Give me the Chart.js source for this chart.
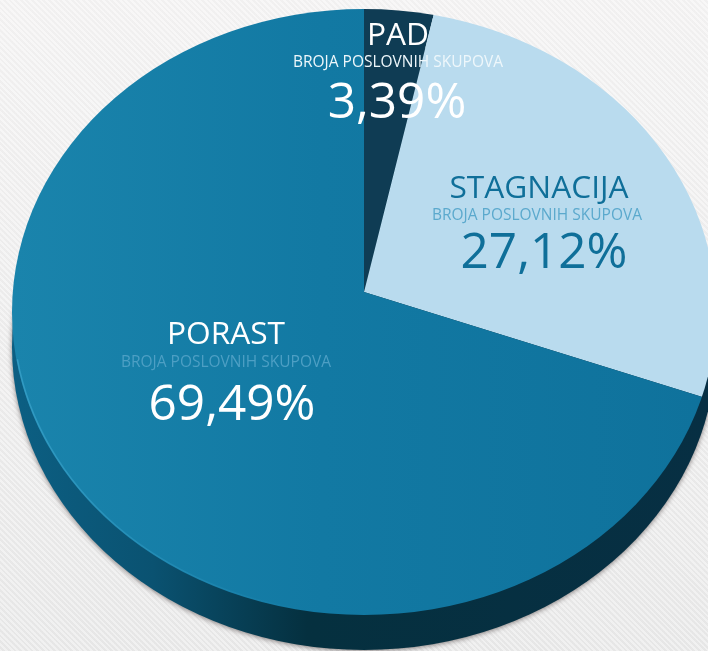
<!DOCTYPE html>
<html>
<head>
    <script src="https://cdn.jsdelivr.net/npm/chart.js@4/dist/chart.umd.min.js"></script>
    <style>
    html, body { margin: 0; padding: 0; overflow: hidden; }
    body {
        width: 708px;
        height: 651px;
        background-color: #ececec;
        background-image:
            repeating-linear-gradient(45deg, rgba(255,255,255,0.35) 0 2px, rgba(0,0,0,0.012) 2px 4px),
            linear-gradient(180deg, #f4f3f3 0%, #e9e9e9 100%);
    }
    canvas { display: block; }
    </style>
    <title>Poslovni skupovi</title>
</head>
<body>
<canvas id="myChart" width="708" height="651"></canvas>
<script>
    var categories = ['PAD', 'STAGNACIJA', 'PORAST'];
    var subtitle = 'BROJA POSLOVNIH SKUPOVA';
    var values = [3.39, 27.12, 69.49];

    var apexX = 364, apexY = 292;   // where the slices meet
    var faceY = 312, faceRx = 352, faceRy = 303;   // tilted disc
    var depth = 35;
    var tilt = faceRy / faceRx;

    var canvas = document.getElementById('myChart');
    var ctx = canvas.getContext('2d');

    var porastFill = ctx.createLinearGradient(12, 0, 700, 0);
    porastFill.addColorStop(0, '#1a84ac');
    porastFill.addColorStop(0.45, '#1279a3');
    porastFill.addColorStop(1, '#0f729c');

    var sideFill = ctx.createLinearGradient(12, 0, 716, 0);
    sideFill.addColorStop(0, '#0c5f83');
    sideFill.addColorStop(0.2, '#0a5271');
    sideFill.addColorStop(0.42, '#05303f');
    sideFill.addColorStop(1, '#072f43');

    // labels: x and baseline of the three lines
    var labelSpots = [
        { x: [398, 398, 397], y: [45, 67, 118], title: '#ffffff', sub: '#eef7fb', pct: '#ffffff' },
        { x: [539, 537, 544], y: [198, 220, 268], title: '#0f6f99', sub: '#5ba9cd', pct: '#0f6f99' },
        { x: [226, 226, 232], y: [344, 367, 420], title: '#ffffff', sub: '#4d9fc4', pct: '#ffffff' }
    ];

    var tiltedDisc = {
        id: 'tiltedDisc',
        beforeDatasetsDraw: function (chart) {
            var c = chart.ctx;
            c.save();
            c.shadowColor = 'rgba(60,50,50,0.6)';
            c.shadowBlur = 5;
            c.shadowOffsetY = 1;
            c.fillStyle = sideFill;
            c.beginPath();
            c.ellipse(apexX, faceY + depth, faceRx, faceRy, 0, 0, Math.PI * 2);
            c.fill();
            c.restore();

            c.save();
            c.beginPath();
            c.ellipse(apexX, faceY, faceRx, faceRy, 0, 0, Math.PI * 2);
            c.clip();
            c.translate(0, apexY);
            c.scale(1, tilt);
            c.translate(0, -apexY);
        },
        afterDatasetsDraw: function (chart) {
            var c = chart.ctx;
            c.restore();
            // light rim on the lower left
            var rim = c.createLinearGradient(12, 0, 300, 0);
            rim.addColorStop(0, 'rgba(70,175,215,0.55)');
            rim.addColorStop(1, 'rgba(70,175,215,0)');
            c.save();
            c.strokeStyle = rim;
            c.lineWidth = 1.5;
            c.beginPath();
            c.ellipse(apexX, faceY, faceRx - 1, faceRy - 1, 0, Math.PI * 0.55, Math.PI * 0.95);
            c.stroke();
            c.restore();
        },
        afterDraw: function (chart) {
            var c = chart.ctx;
            c.save();
            c.textAlign = 'center';
            c.textBaseline = 'alphabetic';
            categories.forEach(function (name, i) {
                var s = labelSpots[i];
                c.fillStyle = s.title;
                c.font = '400 31.7px "Open Sans"';
                c.fillText(name, s.x[0], s.y[0]);
                c.fillStyle = s.sub;
                c.font = '400 15.5px "Open Sans"';
                c.fillText(subtitle, s.x[1], s.y[1]);
                c.fillStyle = s.pct;
                c.font = '400 49.5px "Open Sans"';
                c.fillText(values[i].toFixed(2).replace('.', ',') + '%', s.x[2], s.y[2]);
            });
            c.restore();
        }
    };

    var myChart = new Chart(ctx, {
        type: 'pie',
        data: {
            labels: categories,
            datasets: [{
                data: values,
                backgroundColor: ['#0f3c54', '#b9dbee', porastFill],
                borderWidth: 0,
                clip: false
            }]
        },
        options: {
            responsive: false,
            animation: false,
            radius: 460,
            layout: { padding: { left: 20, bottom: 67 } },
            plugins: {
                legend: { display: false },
                tooltip: { enabled: false },
                title: { display: false }
            }
        },
        plugins: [tiltedDisc]
    });
</script>
</body>
</html>
